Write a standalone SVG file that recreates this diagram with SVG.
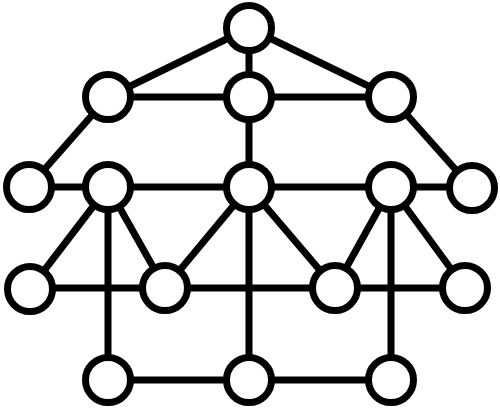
<svg xmlns="http://www.w3.org/2000/svg" width="500" height="409" viewBox="0 0 500 409">
<style>
.e{stroke:#000;stroke-width:7;stroke-linecap:round;fill:none}
.n circle{fill:#fff;stroke:#000;stroke-width:7}
</style>
<rect width="500" height="409" fill="#fff"/>
<g id="edges" class="e">
<line x1="249" y1="28" x2="108" y2="97"/>
<line x1="249" y1="28" x2="391" y2="97"/>
<line x1="249" y1="28" x2="249" y2="97"/>
<line x1="108" y1="97" x2="391" y2="97"/>
<line x1="108" y1="97" x2="29" y2="187"/>
<line x1="391" y1="97" x2="472" y2="188"/>
<line x1="249" y1="97" x2="249" y2="187"/>
<line x1="29" y1="187" x2="472" y2="187"/>
<line x1="108" y1="187" x2="30" y2="289"/>
<line x1="108" y1="187" x2="165" y2="288"/>
<line x1="108" y1="187" x2="108" y2="380"/>
<line x1="249" y1="187" x2="165" y2="288"/>
<line x1="249" y1="187" x2="335" y2="288"/>
<line x1="249" y1="187" x2="249" y2="380"/>
<line x1="391" y1="187" x2="335" y2="288"/>
<line x1="391" y1="187" x2="465" y2="288"/>
<line x1="391" y1="187" x2="391" y2="380"/>
<line x1="30" y1="288" x2="465" y2="288"/>
<line x1="108" y1="380" x2="391" y2="380"/>
</g>
<g id="n1" class="n"><circle cx="249" cy="28" r="22.5"/></g>
<g id="n2" class="n"><circle cx="108" cy="97" r="22.5"/></g>
<g id="n3" class="n"><circle cx="249" cy="97" r="22.5"/></g>
<g id="n4" class="n"><circle cx="391" cy="97" r="22.5"/></g>
<g id="n5" class="n"><circle cx="29" cy="187" r="22.5"/></g>
<g id="n6" class="n"><circle cx="108" cy="187" r="22.5"/></g>
<g id="n7" class="n"><circle cx="249" cy="187" r="22.5"/></g>
<g id="n8" class="n"><circle cx="391" cy="187" r="22.5"/></g>
<g id="n9" class="n"><circle cx="472" cy="188" r="22.5"/></g>
<g id="n10" class="n"><circle cx="30" cy="289" r="22.5"/></g>
<g id="n11" class="n"><circle cx="165" cy="288" r="22.5"/></g>
<g id="n12" class="n"><circle cx="335" cy="288" r="22.5"/></g>
<g id="n13" class="n"><circle cx="465" cy="288" r="22.5"/></g>
<g id="n14" class="n"><circle cx="108" cy="380" r="22.5"/></g>
<g id="n15" class="n"><circle cx="249" cy="380" r="22.5"/></g>
<g id="n16" class="n"><circle cx="391" cy="380" r="22.5"/></g>
</svg>
